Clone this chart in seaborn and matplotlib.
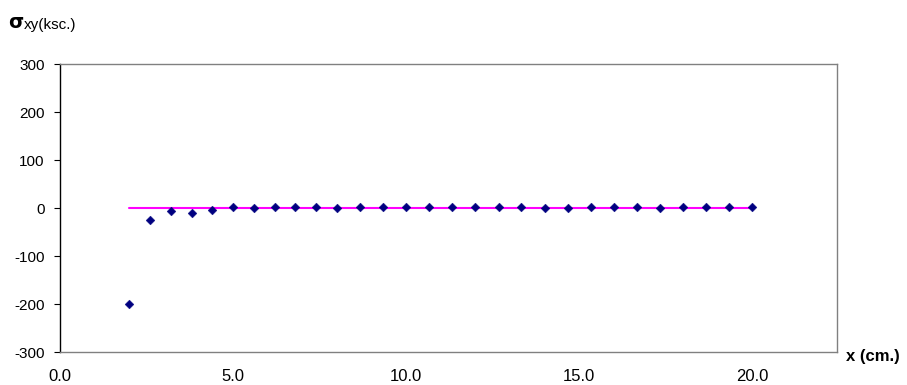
import matplotlib
matplotlib.use("Agg")
import matplotlib.pyplot as plt
import seaborn as sns

# Shear stress along the section, sampled at the nodal positions
x_cm = [2.0, 2.6, 3.2, 3.8, 4.4, 5.0, 5.6, 6.2, 6.8, 7.4, 8.0,
        8.67, 9.33, 10.0, 10.67, 11.33, 12.0, 12.67, 13.33, 14.0,
        14.67, 15.33, 16.0, 16.67, 17.33, 18.0, 18.67, 19.33, 20.0]
sigma_xy = [-200, -24, -7, -10, -4, 2, -1, 2, 2, 2, -1,
            2, 2, 2, 2, 2, 2, 2, 2, -1,
            -1, 2, 2, 2, -1, 2, 2, 2, 2]

# Zero reference line
ref_x = [2.0, 20.0]
ref_y = [0.0, 0.0]

y_ticks = [-300, -200, -100, 0, 100, 200, 300]
x_ticks = [0, 5, 10, 15, 20]
x_tick_labels = ["0.0", "5.0", "10.0", "15.0", "20.0"]

sns.set_style("white")
plt.rcParams["font.family"] = ["Liberation Sans", "DejaVu Sans"]
plt.rcParams["axes.unicode_minus"] = False

W, H = 907, 385
fig = plt.figure(figsize=(W / 100, H / 100), dpi=100)
ax = fig.add_axes([60 / W, 1 - 352 / H, (837 - 60) / W, (352 - 64) / H])

sns.lineplot(x=ref_x, y=ref_y, color="#FF00FF", linewidth=1.5, ax=ax, zorder=2)
sns.scatterplot(x=x_cm, y=sigma_xy, marker="D", s=20, color="#000080",
                edgecolor="#000080", linewidth=0.3, ax=ax, zorder=3)

ax.set_xlim(0, 22.45)
ax.set_ylim(-300, 300)
ax.set_yticks(y_ticks)
ax.set_yticklabels([str(v) for v in y_ticks])
ax.set_xticks(x_ticks)
ax.set_xticklabels(x_tick_labels)
ax.set_xlabel("")
ax.set_ylabel("")

for side in ["top", "right", "bottom"]:
    ax.spines[side].set_color("#808080")
    ax.spines[side].set_linewidth(1.0)
ax.spines["left"].set_color("black")
ax.spines["left"].set_linewidth(1.0)

ax.tick_params(axis="y", which="both", left=True, direction="out", length=4,
               width=0.8, color="black", pad=7, labelsize=11, labelcolor="black")
ax.tick_params(axis="x", which="both", bottom=False, length=0, pad=12,
               labelsize=12, labelcolor="black")
for lbl in ax.get_xticklabels():
    lbl.set_fontfamily(["Liberation Sans Narrow", "Liberation Sans", "DejaVu Sans"])

# Axis titles
fig.text(8 / W, 1 - 28.5 / H, "σ", fontsize=14, fontweight="bold",
         color="black", va="baseline", ha="left", family=["DejaVu Sans"])
fig.text(24 / W, 1 - 28.5 / H, "xy(ksc.)", fontsize=11, color="black",
         va="baseline", ha="left")
fig.text(846 / W, 1 - 357 / H, "x (cm.)", fontsize=12, fontweight="bold",
         color="black", va="center", ha="left")

fig.savefig("out.png", dpi=100, facecolor="white")
